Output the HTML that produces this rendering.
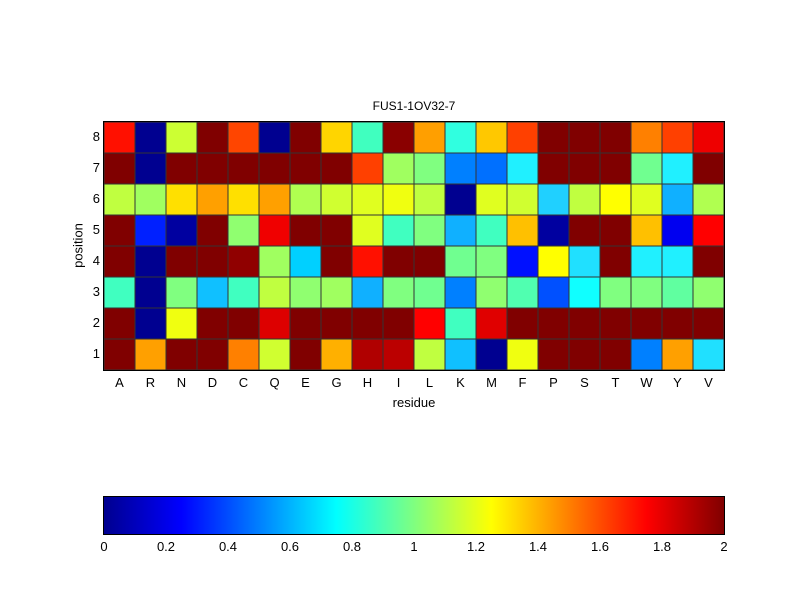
<!DOCTYPE html>
<html><head><meta charset="utf-8"><style>
body{margin:0;background:#fff;width:800px;height:600px;position:relative;font-family:"Liberation Sans",sans-serif;overflow:hidden}
#g{position:absolute;left:104px;top:122px;width:620px;height:248px;display:grid;grid-template-columns:repeat(20,31px);grid-template-rows:repeat(8,31px);outline:1px solid #000}
#g div{box-shadow:inset 0 0 0 0.5px #333}
.t{position:absolute;font-size:13px;color:#000}
.xl{position:absolute;top:375px;width:31px;text-align:center;font-size:13px}
.yl{position:absolute;left:88px;width:12px;text-align:right;font-size:13px}
.cl{position:absolute;top:539px;width:40px;text-align:center;font-size:13px}
#cb{position:absolute;left:104px;top:497px;width:620px;height:37px;outline:1px solid #000;
background:linear-gradient(to right,#00008f 0%,#0000ff 12.5%,#00ffff 37.5%,#ffff00 62.5%,#ff0000 87.5%,#800000 100%)}
</style></head><body>
<div class="t" style="left:0;width:828px;text-align:center;top:99px;font-size:12px">FUS1-1OV32-7</div>
<div id="g">
<div style="background:#ff1000"></div><div style="background:#000090"></div><div style="background:#ccff33"></div><div style="background:#800000"></div><div style="background:#ff4500"></div><div style="background:#000090"></div><div style="background:#800000"></div><div style="background:#ffd500"></div><div style="background:#40ffbf"></div><div style="background:#8a0000"></div><div style="background:#ff9f00"></div><div style="background:#30ffe0"></div><div style="background:#ffc800"></div><div style="background:#ff4000"></div><div style="background:#800000"></div><div style="background:#800000"></div><div style="background:#800000"></div><div style="background:#ff8000"></div><div style="background:#ff4000"></div><div style="background:#ee0000"></div>
<div style="background:#800000"></div><div style="background:#000090"></div><div style="background:#800000"></div><div style="background:#800000"></div><div style="background:#800000"></div><div style="background:#800000"></div><div style="background:#800000"></div><div style="background:#800000"></div><div style="background:#ff4000"></div><div style="background:#a0ff60"></div><div style="background:#80ff80"></div><div style="background:#0080ff"></div><div style="background:#0070ff"></div><div style="background:#20f0ff"></div><div style="background:#800000"></div><div style="background:#800000"></div><div style="background:#800000"></div><div style="background:#70ff90"></div><div style="background:#20f0ff"></div><div style="background:#800000"></div>
<div style="background:#c0ff40"></div><div style="background:#a0ff60"></div><div style="background:#ffe000"></div><div style="background:#ffa000"></div><div style="background:#ffe000"></div><div style="background:#ffa000"></div><div style="background:#b0ff50"></div><div style="background:#d0ff30"></div><div style="background:#e0ff20"></div><div style="background:#f0ff10"></div><div style="background:#c0ff40"></div><div style="background:#000090"></div><div style="background:#e0ff20"></div><div style="background:#d0ff30"></div><div style="background:#20d0ff"></div><div style="background:#c0ff40"></div><div style="background:#ffff00"></div><div style="background:#e0ff20"></div><div style="background:#10b0ff"></div><div style="background:#b0ff50"></div>
<div style="background:#800000"></div><div style="background:#0020ff"></div><div style="background:#0000a0"></div><div style="background:#800000"></div><div style="background:#90ff70"></div><div style="background:#f00000"></div><div style="background:#800000"></div><div style="background:#800000"></div><div style="background:#e0ff20"></div><div style="background:#40ffc0"></div><div style="background:#80ff80"></div><div style="background:#10b0ff"></div><div style="background:#40ffc0"></div><div style="background:#ffc000"></div><div style="background:#0000a0"></div><div style="background:#800000"></div><div style="background:#800000"></div><div style="background:#ffc000"></div><div style="background:#0000f0"></div><div style="background:#ff0000"></div>
<div style="background:#800000"></div><div style="background:#000090"></div><div style="background:#800000"></div><div style="background:#800000"></div><div style="background:#900000"></div><div style="background:#a0ff60"></div><div style="background:#00d0ff"></div><div style="background:#800000"></div><div style="background:#ff1000"></div><div style="background:#800000"></div><div style="background:#800000"></div><div style="background:#70ff90"></div><div style="background:#80ff80"></div><div style="background:#0010ff"></div><div style="background:#ffff00"></div><div style="background:#20e0ff"></div><div style="background:#800000"></div><div style="background:#20f0ff"></div><div style="background:#20f0ff"></div><div style="background:#800000"></div>
<div style="background:#40ffc0"></div><div style="background:#000090"></div><div style="background:#80ff80"></div><div style="background:#10c0ff"></div><div style="background:#40ffc0"></div><div style="background:#c0ff40"></div><div style="background:#90ff70"></div><div style="background:#a0ff60"></div><div style="background:#10b0ff"></div><div style="background:#80ff80"></div><div style="background:#70ff90"></div><div style="background:#0080ff"></div><div style="background:#90ff70"></div><div style="background:#50ffb0"></div><div style="background:#0050ff"></div><div style="background:#10ffff"></div><div style="background:#80ff80"></div><div style="background:#80ff80"></div><div style="background:#60ffa0"></div><div style="background:#90ff70"></div>
<div style="background:#800000"></div><div style="background:#000090"></div><div style="background:#f0ff10"></div><div style="background:#800000"></div><div style="background:#800000"></div><div style="background:#dd0000"></div><div style="background:#800000"></div><div style="background:#800000"></div><div style="background:#800000"></div><div style="background:#800000"></div><div style="background:#ff0000"></div><div style="background:#40ffc0"></div><div style="background:#e00000"></div><div style="background:#800000"></div><div style="background:#800000"></div><div style="background:#800000"></div><div style="background:#800000"></div><div style="background:#800000"></div><div style="background:#800000"></div><div style="background:#800000"></div>
<div style="background:#800000"></div><div style="background:#ffa000"></div><div style="background:#800000"></div><div style="background:#800000"></div><div style="background:#ff8000"></div><div style="background:#d0ff30"></div><div style="background:#800000"></div><div style="background:#ffb000"></div><div style="background:#b00000"></div><div style="background:#bb0000"></div><div style="background:#c0ff40"></div><div style="background:#10c0ff"></div><div style="background:#000090"></div><div style="background:#f0ff10"></div><div style="background:#800000"></div><div style="background:#800000"></div><div style="background:#800000"></div><div style="background:#0080ff"></div><div style="background:#ffa000"></div><div style="background:#20e0ff"></div>
</div>
<div class="yl" style="top:129px">8</div><div class="yl" style="top:160px">7</div><div class="yl" style="top:191px">6</div><div class="yl" style="top:222px">5</div><div class="yl" style="top:253px">4</div><div class="yl" style="top:284px">3</div><div class="yl" style="top:315px">2</div><div class="yl" style="top:346px">1</div>
<div class="t" style="left:48px;top:238px;transform:rotate(-90deg);width:60px;text-align:center">position</div>
<div class="xl" style="left:104px">A</div><div class="xl" style="left:135px">R</div><div class="xl" style="left:166px">N</div><div class="xl" style="left:197px">D</div><div class="xl" style="left:228px">C</div><div class="xl" style="left:259px">Q</div><div class="xl" style="left:290px">E</div><div class="xl" style="left:321px">G</div><div class="xl" style="left:352px">H</div><div class="xl" style="left:383px">I</div><div class="xl" style="left:414px">L</div><div class="xl" style="left:445px">K</div><div class="xl" style="left:476px">M</div><div class="xl" style="left:507px">F</div><div class="xl" style="left:538px">P</div><div class="xl" style="left:569px">S</div><div class="xl" style="left:600px">T</div><div class="xl" style="left:631px">W</div><div class="xl" style="left:662px">Y</div><div class="xl" style="left:693px">V</div>
<div class="t" style="left:384px;top:395px;width:60px;text-align:center">residue</div>
<div id="cb"></div>
<div class="cl" style="left:84px">0</div><div class="cl" style="left:146px">0.2</div><div class="cl" style="left:208px">0.4</div><div class="cl" style="left:270px">0.6</div><div class="cl" style="left:332px">0.8</div><div class="cl" style="left:394px">1</div><div class="cl" style="left:456px">1.2</div><div class="cl" style="left:518px">1.4</div><div class="cl" style="left:580px">1.6</div><div class="cl" style="left:642px">1.8</div><div class="cl" style="left:704px">2</div>
</body></html>
